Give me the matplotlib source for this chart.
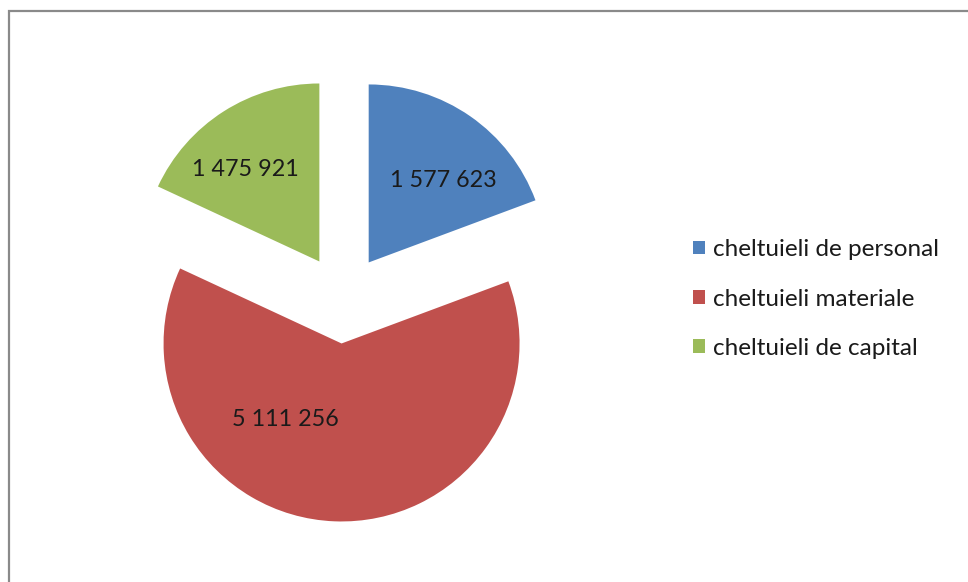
import numpy as np
import matplotlib.pyplot as plt
from matplotlib.patches import Rectangle

plt.rcParams['font.family'] = ['Lato', 'DejaVu Sans']

categories = ["cheltuieli de personal", "cheltuieli materiale", "cheltuieli de capital"]
values = [1577623, 5111256, 1475921]
colors = ["#4F81BD", "#C0504D", "#9BBB59"]

# label placement relative to each (exploded) wedge centre: angle in degrees, distance in radii
label_angle = [47.6, 233.6, 128.8]
label_dist = [0.62, 0.53, 0.66]

def fmt(v):
    return f"{v:,}".replace(",", " ")

W, H = 968, 582
fig = plt.figure(figsize=(W / 100, H / 100), dpi=100)
ax = fig.add_axes([0, 0, 1, 1])

R = 178.0  # pixels per radius
cx, cy = 343.3, 299.0
wedges, _ = ax.pie(values, colors=colors, startangle=90, counterclock=False,
                   explode=[0.25] * 3, wedgeprops=dict(linewidth=0))
ax.set_xlim(-cx / R, (W - cx) / R)
ax.set_ylim((cy - H) / R, cy / R)
ax.set_aspect('auto')
ax.axis('off')

for w, v, a, d in zip(wedges, values, label_angle, label_dist):
    x0, y0 = w.center
    ax.text(x0 + d * np.cos(np.radians(a)), y0 + d * np.sin(np.radians(a)), fmt(v),
            ha='center', va='center', fontsize=16.8, color='#1a1a1a')

fig.legend(wedges, categories, loc='center left', bbox_to_anchor=(671 / W, 1 - 299 / H),
           frameon=False, fontsize=17.5, handlelength=0.5, handleheight=0.5,
           handletextpad=0.33, labelspacing=1.17, labelcolor='#1a1a1a')

fig.add_artist(Rectangle((8.5 / W, -0.1), 2, 1.1 - 11 / H, transform=fig.transFigure,
                         fill=False, edgecolor='#8a8a8a', linewidth=1.6))

fig.savefig("out.png", dpi=100)
